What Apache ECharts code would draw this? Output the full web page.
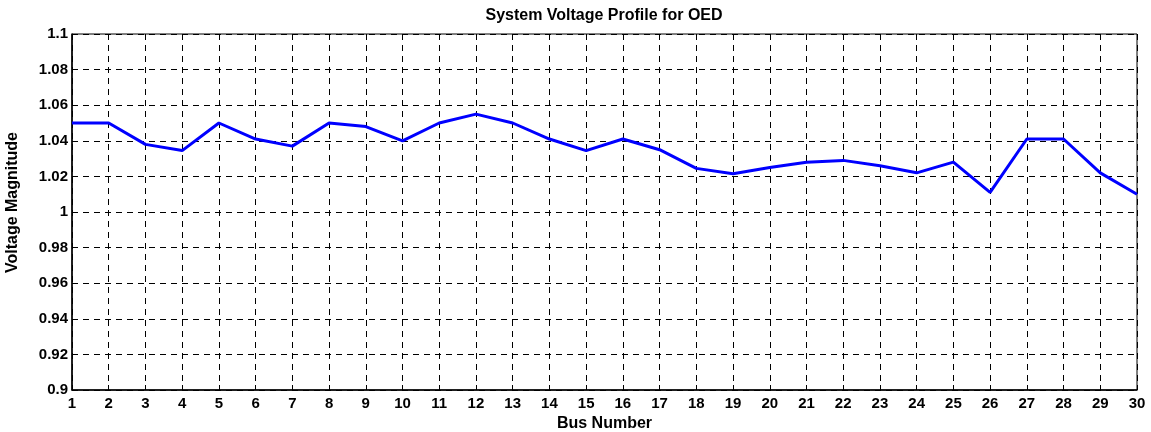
<!DOCTYPE html>
<html>
<head>
<meta charset="utf-8">
<script src="https://cdn.jsdelivr.net/npm/echarts@6/dist/echarts.min.js"></script>
<style>
  html, body { margin: 0; padding: 0; background: #fff; }
  #main { width: 1151px; height: 432px; }
</style>
</head>
<body>
<div id="main"></div>
<script>
// bus numbers and voltage
var buses = [1,2,3,4,5,6,7,8,9,10,11,12,13,14,15,16,17,18,19,20,21,22,23,24,25,26,27,28,29,30];
var voltage = [1.050,1.050,1.038,1.0345,1.050,1.041,1.037,1.050,1.048,1.040,
               1.050,1.055,1.050,1.041,1.0345,1.041,1.035,1.0245,1.0215,1.025,
               1.028,1.029,1.026,1.022,1.028,1.011,1.041,1.041,1.022,1.010];

var points = buses.map(function (b, i) { return [b, voltage[i]]; });

var myChart = echarts.init(document.getElementById('main'));

var dashed = { show: true, lineStyle: { color: '#000', width: 1, type: [6, 5] } };
var fam = 'Liberation Sans, Arial, sans-serif';
var tickFont = { color: '#000', fontFamily: fam, fontWeight: 'bold', fontSize: 15 };
var nameFont = { color: '#000', fontFamily: fam, fontWeight: 'bold', fontSize: 16 };

var option = {
    animation: false,
    title: {
        text: 'System Voltage Profile for OED',
        left: 599,
        textAlign: 'center',
        top: 3,
        textStyle: { color: '#000', fontFamily: fam, fontWeight: 'bold', fontSize: 16 }
    },
    grid: {
        left: 72,
        right: 14,
        top: 34,
        bottom: 42,
        outerBoundsMode: 'none',
        show: true,
        borderColor: '#000',
        borderWidth: 1
    },
    xAxis: {
        type: 'value',
        min: 1,
        max: 30,
        interval: 1,
        name: 'Bus Number',
        nameLocation: 'middle',
        nameGap: 26,
        nameTextStyle: nameFont,
        axisLine: { lineStyle: { color: '#000', width: 1.5 } },
        axisTick: { inside: true, length: 5, lineStyle: { color: '#000' } },
        axisLabel: Object.assign({ margin: 6 }, tickFont),
        splitLine: dashed
    },
    yAxis: {
        type: 'value',
        min: 0.9,
        max: 1.1,
        interval: 0.02,
        name: 'Voltage Magnitude',
        nameLocation: 'middle',
        nameGap: 51,
        nameTextStyle: Object.assign({ padding: [0, 0, 0, 19] }, nameFont),
        axisLine: { show: true, lineStyle: { color: '#000', width: 1.5 } },
        axisTick: { show: true, inside: true, length: 5, lineStyle: { color: '#000' } },
        axisLabel: Object.assign({
            margin: 4,
            formatter: function (v) { return String(+v.toFixed(2)); }
        }, tickFont),
        splitLine: dashed
    },
    series: [
        {
            type: 'line',
            data: points,
            showSymbol: false,
            lineStyle: { color: '#0000ff', width: 3 },
            itemStyle: { color: '#0000ff' }
        }
    ]
};

myChart.setOption(option);
</script>
</body>
</html>
